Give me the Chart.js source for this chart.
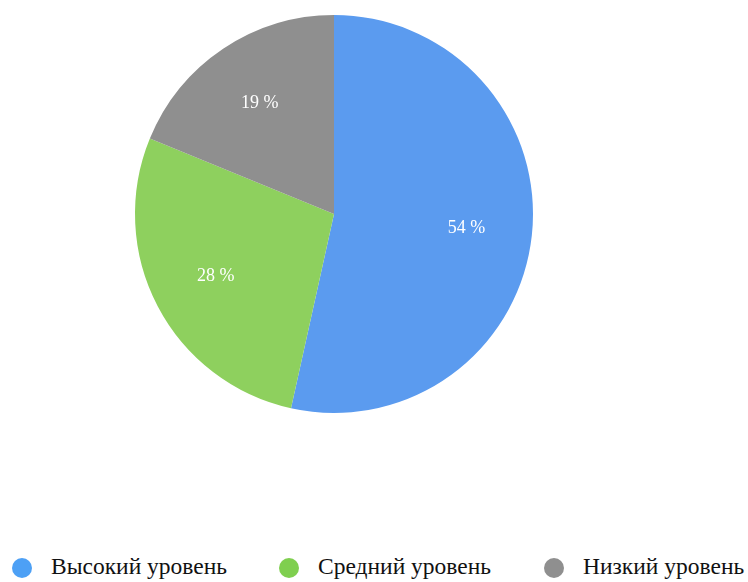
<!DOCTYPE html>
<html>
<head>
<meta charset="utf-8">
<script src="https://cdn.jsdelivr.net/npm/chart.js@4"></script>
<style>
  html, body { margin: 0; padding: 0; background: #fff; }
  #wrap { position: relative; width: 748px; height: 582px; overflow: hidden; }
  #pieBox { position: absolute; left: 0; top: 0; width: 668px; height: 426px; }
  #legend { position: absolute; left: 0; top: 550px; width: 760px; height: 32px;
    font-family: 'Liberation Serif', 'Times New Roman', serif; font-size: 23.5px; color: #111; }
  .item { position: absolute; top: 0; white-space: nowrap; line-height: 32px; }
  .dot { display: inline-block; width: 20px; height: 20px; border-radius: 50%;
    vertical-align: middle; margin-right: 19px; position: relative; top: -1px; }
</style>
</head>
<body>
<div id="wrap">
  <div id="pieBox"><canvas id="pieChart"></canvas></div>
  <div id="legend"></div>
</div>
<script>
const labels = ['Высокий уровень', 'Средний уровень', 'Низкий уровень'];
const values = [54, 28, 19];
const colors = ['#5B9BEF', '#8ED05E', '#8F8F8F'];
const legendColors = ['#4DA0F5', '#7FCF4F', '#8F8F8F'];

// Percent labels drawn at 2/3 of the radius
const sliceLabels = {
  id: 'sliceLabels',
  afterDatasetsDraw(chart) {
    const ctx = chart.ctx;
    const meta = chart.getDatasetMeta(0);
    ctx.save();
    ctx.fillStyle = '#ffffff';
    ctx.font = '18px "Liberation Serif", serif';
    ctx.textAlign = 'center';
    ctx.textBaseline = 'middle';
    meta.data.forEach((arc, i) => {
      const p = arc.getProps(['x', 'y', 'startAngle', 'endAngle', 'outerRadius'], true);
      const mid = (p.startAngle + p.endAngle) / 2;
      const r = p.outerRadius * 0.67;
      ctx.fillText(values[i] + ' %', p.x + Math.cos(mid) * r, p.y + Math.sin(mid) * r);
    });
    ctx.restore();
  }
};

new Chart(document.getElementById('pieChart').getContext('2d'), {
  type: 'pie',
  data: {
    labels: labels,
    datasets: [{
      data: values,
      backgroundColor: colors,
      borderWidth: 0
    }]
  },
  options: {
    responsive: true,
    maintainAspectRatio: false,
    animation: false,
    layout: { padding: { top: 15, bottom: 13, left: 0, right: 0 } },
    plugins: {
      legend: { display: false },
      tooltip: { enabled: false }
    }
  },
  plugins: [sliceLabels]
});

// HTML legend
const legendX = [12, 279, 544];
const legend = document.getElementById('legend');
legend.innerHTML = labels.map((l, i) =>
  `<span class="item" style="left:${legendX[i]}px"><span class="dot" style="background:${legendColors[i]}"></span>${l}</span>`
).join('');
</script>
</body>
</html>
